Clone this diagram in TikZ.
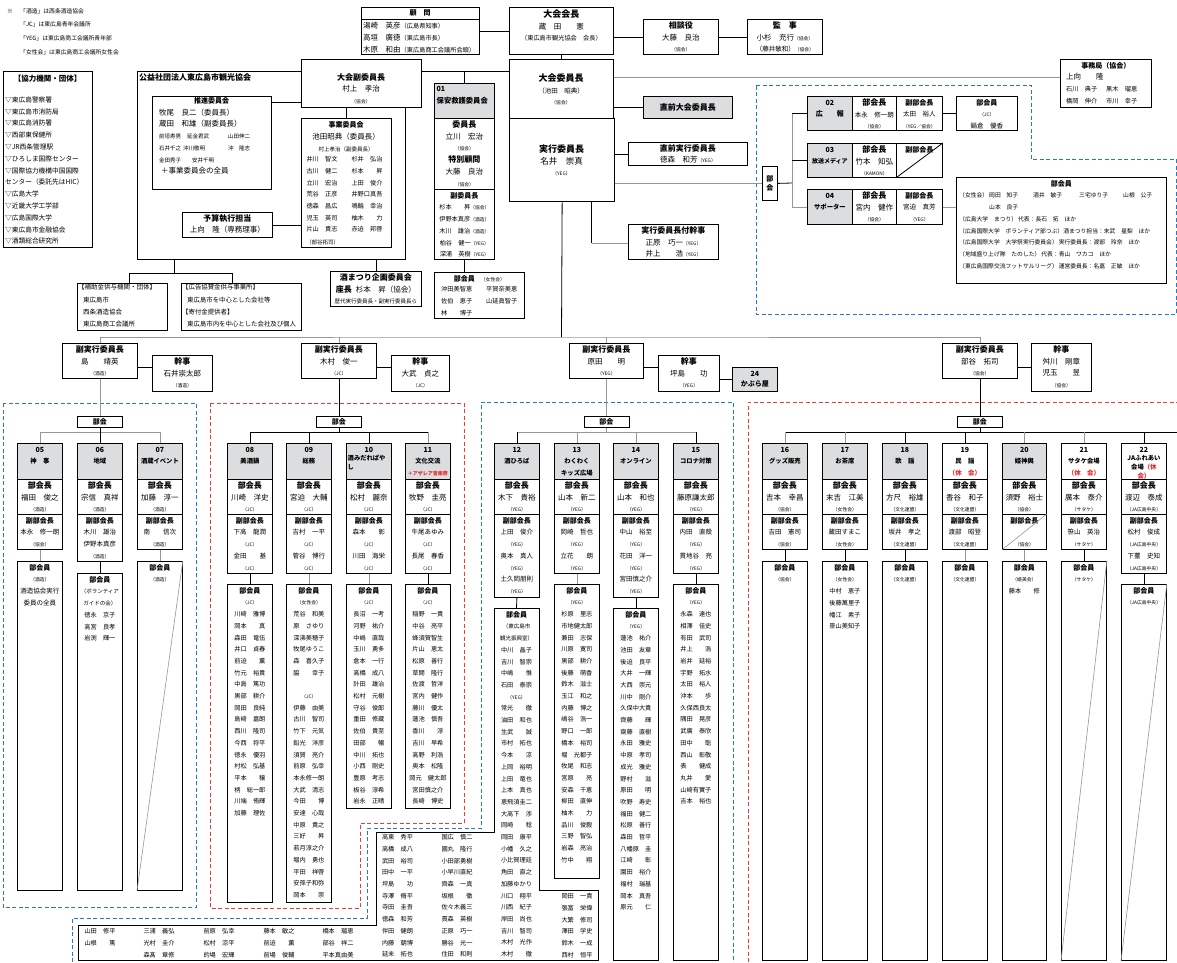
\documentclass[tikz,border=0pt]{standalone}
\usepackage{fontspec}
\setmainfont{Noto Sans CJK JP}
\usetikzlibrary{positioning}
\definecolor{hdrgray}{RGB}{220,221,223}
\definecolor{linegray}{RGB}{150,150,150}
\definecolor{dashblue}{RGB}{40,120,200}
\definecolor{dashred}{RGB}{235,60,60}
\definecolor{hlred}{RGB}{230,40,40}
% text sizes (all on an 11.7pt line pitch)
\newcommand{\fsB}{\fontsize{9}{11.7}\selectfont\bfseries}
\newcommand{\fsT}{\fontsize{8}{11.7}\selectfont\bfseries}
\newcommand{\fsH}{\fontsize{7}{11.7}\selectfont\bfseries}
\newcommand{\fsC}{\fontsize{6.3}{11.7}\selectfont\bfseries}
\newcommand{\fsR}{\fontsize{6.4}{11.7}\selectfont\bfseries\color{hlred}}
\newcommand{\fsN}{\fontsize{7.5}{11.7}\selectfont}
\newcommand{\fsV}{\fontsize{6.5}{11.7}\selectfont}
\newcommand{\fsM}{\fontsize{6.2}{11.7}\selectfont}
\newcommand{\fsP}{\fontsize{5.5}{11.7}\selectfont}
\newcommand{\fsS}{\fontsize{4.8}{11.7}\selectfont}
\tikzset{
  box/.style={draw=black, fill=white, line width=0.8pt, inner sep=0pt, anchor=north west},
  hdr/.style={box, fill=hdrgray},
  lbl/.style={inner sep=0pt, anchor=north, align=center, font=\fsM},
  lbll/.style={inner sep=0pt, anchor=north west, align=left, font=\fsM},
  conn/.style={draw=black, line width=0.8pt},
  gconn/.style={draw=linegray, line width=0.8pt},
  slash/.style={draw=linegray, line width=0.6pt},
  bluedash/.style={draw=dashblue, line width=0.9pt, dash pattern=on 4pt off 2.5pt},
  reddash/.style={draw=dashred, line width=0.9pt, dash pattern=on 4pt off 2.5pt}
}
% box with its text block hung from the top edge
\newcommand{\obox}[7][]{%
  \node[box,minimum width=#5pt,minimum height=#6pt,#1] (#2) at (#3,#4) {};
  \node[lbl] (#2t) at ([yshift=-2.5pt]#2.north) {\rule{0pt}{6.5pt}#7};}

\begin{document}
\begin{tikzpicture}[x=1pt,y=-1pt]
  \fill[white] (0,0) rectangle (1177,962);
  \useasboundingbox (0,0) rectangle (1177,962);

  % dashed groups
  \draw[bluedash] (756,85) -- (1031,85) -- (1031,159) -- (1176,159) -- (1176,314) -- (756,314) -- cycle;
  \draw[bluedash] (3,403) rectangle (196,907);
  \draw[reddash] (210,403) -- (464,403) -- (464,823) -- (360,823) -- (360,908) -- (210,908) -- cycle;
  \draw[bluedash] (72,962) -- (72,918) -- (367,918) -- (367,828) -- (481,828) -- (481,402) -- (733,402) -- (733,962);
  \draw[reddash] (748,962) -- (748,402) -- (1177,402);

  % notes
  \node[inner sep=0pt, font=\fontsize{5.8}{13.7}\selectfont] (kome) at (10,11) {※};
  \node[lbll, font=\fontsize{5.8}{13.7}\selectfont] (notes) at (20,7.5) {\rule{0pt}{5.5pt}「酒造」は西条酒造協会\\「JC」は東広島青年会議所\\「YEG」は東広島商工会議所青年部\\「女性会」は東広島商工会議所女性会};

  % cooperating bodies
  \node[box, minimum width=89pt, minimum height=176pt] (kyoryoku) at (3,71) {};
  \node[lbl, font=\fontsize{7.5}{11.8}\selectfont\bfseries] (kyoryokut) at (47.5,75) {\rule{0pt}{6.5pt}【協力機関・団体】};
  \node[lbll, font=\fontsize{6.7}{11.8}\selectfont] (kyoryokul) at (5,95.5) {\rule{0pt}{6.5pt}▽東広島警察署\\▽東広島市消防局\\▽東広島消防署\\▽西部東保健所\\▽JR西条管理駅\\▽ひろしま国際センター\\▽国際協力機構中国国際\\センター（委託先はHIC）\\▽広島大学\\▽近畿大学工学部\\▽広島国際大学\\▽東広島市金融協会\\▽酒類総合研究所};

  % tourism association
  \node[box, line width=1.2pt, minimum width=268pt, minimum height=188pt] (kanko) at (137,71) {};
  \node[lbll, font=\fsT] (kankot) at (139,73) {\rule{0pt}{6.5pt}公益社団法人東広島市観光協会};
  \node[box, minimum width=119pt, minimum height=93pt] (suishin) at (152,96) {};
  \node[lbl, font=\fsH] (suishint) at (211.5,97) {\rule{0pt}{6.5pt}推進委員会};
  \node[lbll] (suishinl) at (159,108.5) {\rule{0pt}{6.5pt}{\fsN 牧尾　良二（委員長）}\\{\fsN 蔵田　和雄（副委員長）}\\{\fsP\makebox[28pt][l]{前垣寿男}\makebox[41pt][l]{延金君武}山田伸二}\\{\fsP\makebox[24pt][l]{石井千之}\makebox[45pt][l]{沖川敬明}沖　隆志}\\{\fsP\makebox[33pt][l]{金田秀子}安井千明}\\{\fsN\hspace*{2pt}＋事業委員会の全員}};
  \node[box, minimum width=90pt, minimum height=129pt] (jigyo) at (301,118) {};
  \node[lbl] (jigyot) at (346,121) {\rule{0pt}{6.5pt}{\fsH 事業委員会}\\{\fsN 池田昭典（委員長）}\\{\fsP 村上孝治（副委員長）}};
  \node[lbl] (jigyol) at (322,155) {\rule{0pt}{6.5pt}井川　智文\\古川　健二\\立川　宏治\\荒谷　正彦\\徳森　昌広\\児玉　英司\\片山　貴志};
  \node[lbl] (jigyor) at (367,155) {\rule{0pt}{6.5pt}杉井　弘治\\杉本　　昇\\上田　俊介\\井野口真吾\\鳴輪　幸治\\柚木　　力\\赤迫　邦啓};
  \node[lbll, font=\fsP] (jigyob) at (306,238) {\rule{0pt}{6.5pt}（部谷拓司）};
  \obox{yosan}{182}{212}{90}{25}{{\fsT 予算執行担当}\\[-1pt]{\fsN 上向　隆（専務理事）}}
  \obox{fukutaikai}{301}{59}{120}{48}{}
  \node[lbl] (fukutaikaiu) at (361,73) {\rule{0pt}{6.5pt}{\fsT 大会副委員長}\\{\fsN 村上　孝治}\\{\fsS （協会）}};

  % supporters below
  \node[box, minimum width=90pt, minimum height=47pt] (hojo) at (77,283) {};
  \node[lbll, font=\fontsize{6.5}{12.3}\selectfont] (hojot) at (78,283) {\rule{0pt}{6.5pt}【補助金供与機関・団体】\\\hspace*{5pt}東広島市\\\hspace*{5pt}西条酒造協会\\\hspace*{5pt}東広島商工会議所};
  \node[box, minimum width=120pt, minimum height=47pt] (koukoku) at (181,283) {};
  \node[lbll, font=\fontsize{6.4}{12.3}\selectfont] (koukokut) at (182,283) {\rule{0pt}{6.5pt}【広告協賛金供与事業所】\\\hspace*{5pt}東広島市を中心とした会社等\\【寄付金提供者】\\\hspace*{5pt}東広島市内を中心とした会社及び個人};
  \obox{sakem}{330}{271}{91}{35}{{\fsT 酒まつり企画委員会}\\{\fsT 座長}\hspace{4pt}{\fsN 杉本　昇（協会）}\\{\fontsize{5.5}{11.7}\selectfont 歴代実行委員長・副実行委員長ら}}

  % top row
  \node[box, minimum width=118pt, minimum height=12pt] (komonh) at (361,7) {};
  \node[box, minimum width=118pt, minimum height=35pt] (komon) at (361,19) {};
  \node[lbl, font=\fsH] (komonht) at (420,9) {\rule{0pt}{6.5pt}顧　問};
  \node[lbll] (komonl) at (363,22) {\rule{0pt}{6.5pt}{\fsN 湯崎　英彦}（広島県知事）\\{\fsN 高垣　廣徳}（東広島市長）\\{\fsN 木原　和由}（東広島商工会議所会頭）};
  \obox{taikai}{509}{7}{104}{47}{{\fsB 大会会長}\\{\fsN 蔵　田　　憲}\\（東広島市観光協会　会長）}
  \obox{sodan}{643}{19}{75}{35}{{\fsT 相談役}\\{\fsN 大藤　良治}\\{\fsS （協会）}}
  \obox{kansa}{747}{19}{75}{35}{{\fsT 監　事}\\{\fsN 小杉　充行}{\fsS（協会）}\\{\fsV （藤井敏和）}{\fsS（協会）}}
  \node[box, minimum width=104pt, minimum height=59pt] (iincho) at (509,59) {};
  \node[lbl] (iinchot) at (561,73.5) {\rule{0pt}{6.5pt}{\fsB 大会委員長}\\{\fsV （池田　昭典）}\\{\fsS （協会）}};
  \node[box, line width=1.3pt, minimum width=105pt, minimum height=83pt] (jikko) at (509,118) {};
  \node[lbl] (jikkot) at (561.5,144.5) {\rule{0pt}{6.5pt}{\fsB 実行委員長}\\{\fontsize{8.5}{11.7}\selectfont 名井　崇真}\\{\fsS （YEG）}};
  \node[hdr, minimum width=89pt, minimum height=22pt, font=\fsT] (zenkai) at (643,96) {直前大会委員長};
  \obox{zenjikko}{628}{142}{119}{23}{{\fsT 直前実行委員長}\\[-1pt]{\fsN 徳森　和芳}{\fsS（YEG）}}
  \obox{tsuki}{628}{224}{90}{35}{{\fsT 実行委員長付幹事}\\{\fsN 正原　巧一}{\fsS（YEG）}\\{\fsN 井上　　浩}{\fsS（YEG）}}
  \obox{jimu}{1060}{59}{91}{48}{{\fsH 事務局（協会）}}
  \node[lbll] (jimul) at (1066,73) {\rule{0pt}{6.5pt}{\fsN 上向　　隆}\\\makebox[40pt][l]{石川　典子}黒木　瑠恵\\\makebox[40pt][l]{橋岡　伸介}市川　幸子};

  % 01
  \node[hdr, minimum width=60pt, minimum height=35pt] (hoanh) at (434,83) {};
  \node[lbll] (hoanht) at (436.5,85) {\rule{0pt}{6.5pt}{\fsH 01}\\{\fontsize{7.3}{11.7}\selectfont\bfseries 保安救護委員会}};
  \obox{hoan1}{434}{118}{60}{71}{{\fsT 委員長}\\{\fsN 立川　宏治}\\{\fsS （協会）}\\{\fsT 特別顧問}\\{\fsN 大藤　良治}\\{\fsS （協会）}}
  \obox{hoan2}{434}{189}{60}{70}{{\fsH 副委員長}\\杉本　　昇{\fsS（協会）}\\伊野本真彦{\fsS（酒造）}\\木川　雄治{\fsS（酒造）}\\柏谷　健一{\fsS（YEG）}\\深浦　英樹{\fsS（YEG）}}
  \obox{hoanw}{434}{272}{90}{46}{{\fsH 部会員}\hspace{6pt}{\fsS （女性会）}}
  \node[lbll] (hoanwl) at (441,285) {\rule{0pt}{6.5pt}\makebox[45pt][l]{沖田美智恵}平賀奈美恵\\\makebox[45pt][l]{佐伯　恵子}山延眞智子\\林　　博子};

  % 02-04
  \node[box, minimum width=15pt, minimum height=34pt, align=center, font=\fontsize{7}{9}\selectfont\bfseries] (bukaiv) at (762,166) {部\\会};
  \obox[hdr]{b02h}{807}{96}{45}{34}{{\fsH 02}\\{\fsH 広　　報}}
  \obox{b02a}{852}{96}{44}{34}{{\fsT 部会長}\\{\fsV 本永　修一朗}\\{\fsS （協会）}}
  \obox{b02b}{896}{96}{46}{34}{{\fsH 副部会長}\\{\fsV 太田　裕人}\\{\fsS （YEG／協会）}}
  \obox{b02c}{956}{96}{61}{34}{{\fsH 部会員}\\{\fsS （JC）}\\{\fsV 鍋倉　優香}}
  \obox[hdr]{b03h}{807}{143}{45}{34}{{\fsH 03}\\{\fontsize{6}{11.7}\selectfont\bfseries 放送メディア}}
  \obox{b03a}{852}{143}{44}{34}{{\fsT 部会長}\\{\fsN 竹本　知弘}\\{\fsS （KAMON）}}
  \obox{b03b}{896}{143}{46}{34}{{\fsH 副部会長}}
  \obox[hdr]{b04h}{807}{189}{45}{35}{{\fsH 04}\\{\fsC サポーター}}
  \obox{b04a}{852}{189}{44}{35}{{\fsT 部会長}\\{\fsN 宮内　健作}\\{\fsS （協会）}}
  \obox{b04b}{896}{189}{46}{35}{{\fsH 副部会長}\\{\fsV 宮迫　真芳}\\{\fsS （YEG）}}
  \obox{b04c}{956}{177}{210}{106}{{\fsH 部会員}}
  \node[lbll, font=\fontsize{5.8}{11.8}\selectfont] (b04cl) at (959,191) {\rule{0pt}{6.5pt}\makebox[30pt][l]{（女性会）}\makebox[44pt][l]{岡田　知子}\makebox[46pt][l]{酒井　敏子}\makebox[44pt][l]{三宅ゆり子}山根　公子\\\hspace*{30pt}山本　良子\\（広島大学　まつり）\,代表：長石　拓　ほか\\（広島国際大学　ボランティア部つぶ）酒まつり担当：末武　星梨　ほか\\（広島国際大学　大学祭実行委員会）\,実行委員長：渡部　玲奈　ほか\\（地域盛り上げ隊　たのした）\,代表：青山　ワカコ　ほか\\（東広島国際交流フットサルリーグ）\,運営委員長：名嘉　正敏　ほか};

  % top connectors
  \draw[conn] (taikai.west -| komon.east) -- (taikai.west);
  \draw[conn] (taikai.east |- sodan.west) -- (sodan.west);
  \draw[conn] (sodan.east) -- (kansa.west);
  \draw[conn] (taikai.south) -- (iincho.north);
  \draw[conn] ([yshift=12pt]fukutaikai.east) -- ([yshift=12pt]fukutaikai.east -| iincho.west);
  \draw[conn] (hoanh.north) -- ++(0,-12);
  \draw[conn] ([yshift=-6pt]suishin.north east) -- ([yshift=-6pt]suishin.north east -| fukutaikai.west);
  \draw[conn] (jigyo.north) -- (jigyo.north |- fukutaikai.south);
  \draw[conn] (yosan.east) -- (yosan.east -| jigyo.west);
  \draw[conn] (sakem.north) -- (sakem.north |- kanko.south);
  \draw[conn] ([xshift=-97pt]kanko.south) -- ++(0,13) coordinate (kj);
  \draw[conn] ([xshift=7pt]hojo.north) |- (kj) -| ([xshift=-9pt]koukoku.north);
  \draw[conn] (hoan2.south) -- (hoan2.south |- hoanw.north);
  \draw[conn] (zenkai.west -| iincho.east) -- (zenkai.west);
  \draw[conn] (zenjikko.west -| jikko.east) -- (zenjikko.west);
  \draw[gconn] ([yshift=11.5pt]iincho.east) -- ([yshift=11.5pt]iincho.east -| jimu.west);
  \draw[gconn] (bukaiv.west -| jikko.east) -- (bukaiv.west);
  \draw[conn] ([xshift=29.5pt]jikko.south) -- ++(0,41) coordinate (tk);
  \draw[gconn] (tk) -- (tk -| tsuki.west);
  \coordinate (bus0) at (792,183);
  \draw[conn] (bukaiv.east) -- (bus0);
  \draw[gconn] (bus0 |- b02h.west) -- (bus0 |- b04h.west);
  \draw[conn] (bus0 |- b02h.west) -- (b02h.west);
  \draw[conn] (bus0 |- b03h.west) -- (b03h.west);
  \draw[gconn] (bus0 |- b04h.west) -- (b04h.west);
  \draw[conn] (b02b.east) -- (b02c.west);
  \draw[gconn] (b04b.east) -- (b04b.east -| b04c.west);
  \draw[conn] (b03b.south west) -- (b03b.north east);

  % vice chairs
  \obox{fk1}{62}{343}{75}{35}{{\fsT 副実行委員長}\\{\fsN 島　　靖英}\\{\fsS （酒造）}}
  \obox{kj1}{152}{355}{60}{36}{{\fsT 幹事}\\{\fsN 石井崇太郎}\\{\fsS （酒造）}}
  \obox{fk2}{301}{343}{75}{35}{{\fsT 副実行委員長}\\{\fsN 木村　俊一}\\{\fsS （JC）}}
  \obox{kj2}{391}{355}{58}{36}{{\fsT 幹事}\\{\fsN 大武　貞之}\\{\fsS （JC）}}
  \obox{fk3}{569}{343}{74}{35}{{\fsT 副実行委員長}\\{\fsN 原田　　明}\\{\fsS （YEG）}}
  \obox{kj3}{658}{355}{61}{36}{{\fsT 幹事}\\{\fsN 坪島　　功}\\{\fsS （YEG）}}
  \obox[hdr]{k24}{732}{367}{45}{24}{{\fsH 24}\\[-1pt]{\fsH かぶら屋}}
  \obox{fk4}{942}{343}{75}{35}{{\fsT 副実行委員長}\\{\fsN 部谷　拓司}\\{\fsS （協会）}}
  \obox{kj4}{1031}{343}{60}{48}{{\fsT 幹事}\\{\fsN 舛川　剛章}\\{\fsN 児玉　　昱}\\{\fsS （協会）}}
  \coordinate (fbus) at (561.5,337);
  \draw[conn] (jikko.south) -- (fbus);
  \draw[gconn] (fk1.north) |- (fbus) -| (fk4.north);
  \draw[gconn] (fk2.north) -- (fk2.north |- fbus);
  \draw[gconn] (fk3.north) -- (fk3.north |- fbus);
  \draw[conn] ([yshift=-6.5pt]fk1.east) -- ([yshift=-6.5pt]fk1.east -| kj1.west);
  \draw[conn] ([yshift=-6.5pt]fk2.east) -- ([yshift=-6.5pt]fk2.east -| kj2.west);
  \draw[conn] ([yshift=-6.5pt]fk3.east) -- ([yshift=-6.5pt]fk3.east -| kj3.west);
  \draw[conn] ([yshift=-6.5pt]fk4.east) -- ([yshift=-6.5pt]fk4.east -| kj4.west);
  \draw[conn] (k24.west -| kj3.east) -- (k24.west);

  % group 1
  \node[box, minimum width=45pt, minimum height=11pt, font=\fsH] (bk1) at (77,416) {部会};
  \obox[hdr]{h05}{17}{443}{45}{36}{{\fsH 05}\\{\fsC 神　事}}
  \obox{a05}{17}{479}{45}{35}{{\fsT 部会長}\\{\fsN 福田　俊之}\\{\fsS （酒造）}}
  \obox{v05}{17}{514}{45}{35}{{\fsH 副部会長}\\{\fsV 本永　修一朗}\\{\fsS （協会）}}
  \obox{m05}{17}{561}{45}{329}{{\fsH 部会員}\\{\fsS （酒造）}\\{\fsV 酒造協会実行}\\{\fsV 委員の全員}}
  \obox[hdr]{h06}{77}{443}{45}{36}{{\fsH 06}\\{\fsC 地域}}
  \obox{a06}{77}{479}{45}{35}{{\fsT 部会長}\\{\fsN 宗信　真祥}\\{\fsS （酒造）}}
  \obox{v06}{77}{514}{45}{47}{{\fsH 副部会長}\\{\fsV 木川　雄治}\\{\fsV 伊野本真彦}\\{\fsS （酒造）}}
  \obox{m06}{77}{573}{45}{317}{{\fsH 部会員}\\{\fsP （ボランティア}\\{\fsP ガイドの会）}\\徳永　京子\\高宮　良孝\\岩渕　輝一}
  \obox[hdr]{h07}{137}{443}{45}{36}{{\fsH 07}\\{\fsC 酒蔵イベント}}
  \obox{a07}{137}{479}{45}{35}{{\fsT 部会長}\\{\fsN 加藤　淳一}\\{\fsS （酒造）}}
  \obox{v07}{137}{514}{45}{35}{{\fsH 副部会長}\\{\fsV 南　　信次}\\{\fsS （酒造）}}
  \obox{m07}{137}{561}{45}{329}{{\fsH 部会員}\\{\fsS （酒造）}}
  \draw[slash] (m07.south west) -- (m07.north east);
  \draw[gconn] (fk1.south) -- (bk1.north);
  \draw[gconn] ([yshift=11pt]h05.north) -- ([yshift=11pt]h07.north);
  \draw[gconn] (h05.north) -- ++(0,-11);
  \draw[gconn] (h07.north) -- ++(0,-11);
  \draw[conn] (bk1.south) -- (h06.north);
  \draw[gconn] (v05.south) -- (m05.north);
  \draw[conn] (v06.south) -- (m06.north);
  \draw[gconn] (v07.south) -- (m07.north);

  % group 2
  \node[box, minimum width=45pt, minimum height=11pt, font=\fsH] (bk2) at (316,416) {部会};
  \obox[hdr]{h08}{227}{443}{45}{36}{{\fsH 08}\\{\fsC 美酒鍋}}
  \obox{a08}{227}{479}{45}{35}{{\fsT 部会長}\\{\fsN 川崎　洋史}\\{\fsS （JC）}}
  \obox{v08}{227}{514}{45}{59}{{\fsH 副部会長}\\{\fsV 下高　龍潤}\\{\fsS （JC）}\\{\fsV 金田　　基}\\{\fsS （JC）}}
  \obox{m08}{227}{584}{45}{318}{{\fsH 部会員}\\{\fsS （JC）}\\川崎　雅博\\岡本　　真\\森田　竜伍\\井口　貞春\\前迫　　薫\\竹元　裕貴\\中島　篤功\\黒部　耕介\\岡田　良純\\島崎　嘉朗\\西川　隆司\\今西　将平\\徳永　優羽\\村松　弘基\\平本　　穣\\柄　総一郎\\川端　侑輝\\加藤　理佐}
  \obox[hdr]{h09}{286}{443}{45}{36}{{\fsH 09}\\{\fsC 総務}}
  \obox{a09}{286}{479}{45}{35}{{\fsT 部会長}\\{\fsN 宮迫　大輔}\\{\fsS （JC）}}
  \obox{v09}{286}{514}{45}{59}{{\fsH 副部会長}\\{\fsV 吉村　一平}\\{\fsS （JC）}\\{\fsV 菅谷　博行}\\{\fsS （JC）}}
  \obox{m09}{286}{584}{45}{318}{{\fsH 部会員}\\{\fsS （女性会）}\\荒谷　和美\\原　さゆり\\深沸美穂子\\牧尾ゆうこ\\森　喜久子\\脇　　幸子\\\mbox{}\\{\fsS （JC）}\\伊藤　由美\\古川　智司\\竹下　元気\\鉛光　洋彦\\須賀　亮介\\前原　弘幸\\本永修一朗\\大武　清志\\今田　　博\\安達　心哉\\中原　貴之\\三好　　昇\\若月淳之介\\堀内　勇也\\平田　祥啓\\安孫子和弥\\岡本　　崇}
  \node[hdr, minimum width=45pt, minimum height=36pt] (h10) at (346,443) {};
  \node[lbl] (h10t) at ([yshift=-2.5pt]h10.north) {\rule{0pt}{6.5pt}{\fsH 10}};
  \node[lbll, font=\fontsize{6.3}{8.5}\selectfont\bfseries] (h10n) at (347.5,455) {\rule{0pt}{5.5pt}酒みだれぱや\\し};
  \obox{a10}{346}{479}{45}{35}{{\fsT 部会長}\\{\fsN 松村　麗奈}\\{\fsS （JC）}}
  \obox{v10}{346}{514}{45}{59}{{\fsH 副部会長}\\{\fsV 森本　　彰}\\{\fsS （JC）}\\{\fsV 川田　海栄}\\{\fsS （JC）}}
  \obox{m10}{346}{584}{45}{224}{{\fsH 部会員}\\{\fsS （JC）}\\長沼　一考\\河野　祐介\\中嶋　直哉\\玉川　勇多\\倉本　一行\\高橋　成八\\計田　雄治\\松村　元樹\\守谷　俊郎\\重田　修蔵\\佐伯　貴至\\田部　　暢\\中川　拓也\\小西　剛史\\豊原　考志\\板谷　淳希\\岩永　正晴}
  \obox[hdr]{h11}{405}{443}{45}{36}{{\fsH 11}\\{\fsC 文化交流}\\{\fontsize{5}{11.7}\selectfont\bfseries\color{hlred}＋アザレア音楽祭}}
  \obox{a11}{405}{479}{45}{35}{{\fsT 部会長}\\{\fsN 牧野　圭亮}\\{\fsS （JC）}}
  \obox{v11}{405}{514}{45}{59}{{\fsH 副部会長}\\{\fsV 牛尾あゆみ}\\{\fsS （JC）}\\{\fsV 長尾　春香}\\{\fsS （JC）}}
  \obox{m11}{405}{584}{45}{224}{{\fsH 部会員}\\{\fsS （JC）}\\稲野　一貴\\中谷　亮平\\蜂須賀智生\\片山　恵太\\松原　善行\\草間　隆行\\佐渡　哲洋\\宮内　健作\\藤川　優太\\蓮池　慎吾\\香川　　淳\\吉川　早希\\高野　利浩\\奥本　松隆\\岡元　健太郎\\宮田慎之介\\長崎　博史}
  \draw[conn] (fk2.south) -- (bk2.north);
  \draw[conn] ([yshift=11pt]h08.north) -- ([yshift=11pt]h11.north);
  \draw[conn] (bk2.south) -- ++(0,5);
  \draw[conn] (h08.north) -- ++(0,-11);
  \draw[conn] (h09.north) -- ++(0,-11);
  \draw[conn] (h10.north) -- ++(0,-11);
  \draw[gconn] (h11.north) -- ++(0,-11);
  \draw[conn] (v08.south) -- (m08.north);
  \draw[gconn] (v09.south) -- (m09.north);
  \draw[gconn] (v10.south) -- (m10.north);
  \draw[conn] (v11.south) -- (m11.north);

  % group 3
  \node[box, minimum width=45pt, minimum height=11pt, font=\fsH] (bk3) at (583.5,416) {部会};
  \obox[hdr]{h12}{494}{443}{45}{36}{{\fsH 12}\\{\fsC 酒ひろば}}
  \obox{a12}{494}{479}{45}{35}{{\fsT 部会長}\\{\fsN 木下　貴裕}\\{\fsS （YEG）}}
  \obox{v12}{494}{514}{45}{83}{{\fsH 副部会長}\\{\fsV 上田　俊介}\\{\fsS （YEG）}\\{\fsV 奥本　真人}\\{\fsS （YEG）}\\{\fsV 土久岡朋則}\\{\fsS （YEG）}}
  \draw[line width=0.8pt] (494,608) -- (539,608) -- (539,890) -- (598,890) -- (598,960) -- (78,960) -- (78,925) -- (376,925) -- (376,832) -- (494,832) -- cycle;
  \coordinate (m12) at (516.5,608);
  \node[lbl] (m12t) at (516.5,610.5) {\rule{0pt}{6.5pt}{\fsH 部会員}\\{\fsP （東広島市}\\{\fsP 観光振興室）}\\中川　晶子\\吉川　智崇\\中嶋　　惟\\石田　泰崇\\{\fsS （YEG）}\\常光　　徹\\油田　和也\\生武　　誠\\市村　拓也\\今本　　涼\\上岡　裕明\\上田　竜也\\上本　真也\\恵飛須圭二\\大高下　渉\\岡崎　　稔\\岡田　康平\\小幡　久之\\小比賀理廷\\角田　直之\\加藤ゆかり\\川口　翔平\\川西　紀子\\岸田　尚也\\吉川　智司\\木村　光作\\木村　　徹};
  \node[lbl] (m12a) at (397.5,833) {\rule{0pt}{6.5pt}高東　秀平\\高橋　成八\\武田　裕司\\田中　一平\\坪島　　功\\寺澤　脩平\\寺田　圭吾\\徳森　和芳\\伴田　健朗\\内藤　朝博\\延末　拓也};
  \node[lbl] (m12b) at (457,833) {\rule{0pt}{6.5pt}国広　慎二\\國丸　隆行\\小田部勇樹\\小早川直紀\\齊森　一真\\坂根　　徹\\佐々木義三\\貫森　英樹\\正原　巧一\\勝谷　光一\\住田　和則};
  \node[lbl] (m12c) at (577,892) {\rule{0pt}{6.5pt}岡田　一貴\\張富　栄偉\\大繁　修司\\澤田　学史\\鈴木　一成\\西村　恒平};
  \node[lbl] (m12d) at (100,927) {\rule{0pt}{6.5pt}山田　修平\\山根　　篤};
  \node[lbl] (m12e) at (159,927) {\rule{0pt}{6.5pt}三浦　義弘\\光村　圭介\\森髙　章修};
  \node[lbl] (m12f) at (219,927) {\rule{0pt}{6.5pt}前原　弘幸\\松村　涼平\\的場　宏輝};
  \node[lbl] (m12g) at (279,927) {\rule{0pt}{6.5pt}藤本　敏之\\前迫　　薫\\前場　俊輔};
  \node[lbl] (m12h) at (338,927) {\rule{0pt}{6.5pt}橋本　瑠恵\\部谷　祥二\\平本真由美};
  \obox[hdr]{h13}{554}{443}{45}{36}{{\fsH 13}\\{\fsC わくわく}\\{\fsC キッズ広場}}
  \obox{a13}{554}{479}{45}{35}{{\fsT 部会長}\\{\fsN 山本　新二}\\{\fsS （YEG）}}
  \obox{v13}{554}{514}{45}{59}{{\fsH 副部会長}\\{\fsV 岡崎　哲也}\\{\fsS （YEG）}\\{\fsV 立花　　朗}\\{\fsS （YEG）}}
  \obox{m13}{554}{584}{45}{294}{{\fsH 部会員}\\{\fsS （YEG）}\\杉原　里志\\市地健太郎\\兼田　志保\\川原　寛司\\黒部　耕介\\後藤　萌香\\鈴木　滋士\\玉江　和之\\内藤　博之\\嶋谷　浩一\\野口　一郎\\橋本　裕司\\堀　光都子\\牧尾　和志\\宮原　　亮\\安森　千恵\\柳田　直伸\\柚木　　力\\品川　俊毅\\三野　智弘\\岩森　亮治\\竹中　　翔}
  \obox[hdr]{h14}{613}{443}{45}{36}{{\fsH 14}\\{\fsC オンライン}}
  \obox{a14}{613}{479}{45}{35}{{\fsT 部会長}\\{\fsN 山本　和也}\\{\fsS （YEG）}}
  \obox{v14}{613}{514}{45}{83}{{\fsH 副部会長}\\{\fsV 中山　裕至}\\{\fsS （YEG）}\\{\fsV 花田　洋一}\\{\fsS （YEG）}\\{\fsV 宮田慎之介}\\{\fsS （YEG）}}
  \obox{m14}{613}{608}{45}{352}{{\fsH 部会員}\\{\fsS （YEG）}\\蓮池　祐介\\池田　友章\\後迫　良平\\大井　一輝\\大西　崇元\\川中　剛介\\久保中大貴\\齊藤　　輝\\齋藤　直樹\\永田　雅史\\中原　孝司\\成光　雅史\\野村　　滋\\原田　　明\\吹野　寿史\\福田　健二\\松原　善行\\森田　哲平\\八幡原　圭\\江崎　　彰\\園田　裕介\\福村　瑞基\\岡本　真吾\\原元　　仁}
  \obox[hdr]{h15}{673}{443}{45}{36}{{\fsH 15}\\{\fsC コロナ対策}}
  \obox{a15}{673}{479}{45}{35}{{\fsT 部会長}\\{\fsN 藤原謙太郎}\\{\fsS （YEG）}}
  \obox{v15}{673}{514}{45}{59}{{\fsH 副部会長}\\{\fsV 内田　直殻}\\{\fsS （YEG）}\\{\fsV 貫地谷　亮}\\{\fsS （YEG）}}
  \obox{m15}{673}{584}{45}{376}{{\fsH 部会員}\\{\fsS （YEG）}\\永森　達也\\相澤　佳史\\有田　武司\\井上　　浩\\岩井　延裕\\宇野　拓水\\太田　裕人\\沖本　　歩\\久保西良太\\隅田　晃彦\\武廣　泰欣\\田中　　聡\\西山　彰敬\\表　　健成\\丸井　　愛\\山崎有實子\\吉本　裕也}
  \draw[gconn] (fk3.south) -- (bk3.north);
  \draw[gconn] ([yshift=11pt]h12.north) -- ([yshift=11pt]h15.north);
  \draw[gconn] (bk3.south) -- ++(0,5);
  \draw[conn] (h12.north) -- ++(0,-11);
  \draw[gconn] (h13.north) -- ++(0,-11);
  \draw[gconn] (h14.north) -- ++(0,-11);
  \draw[conn] (h15.north) -- ++(0,-11);
  \draw[conn] (v12.south) -- (m12);
  \draw[gconn] (v13.south) -- (m13.north);
  \draw[conn] (v14.south) -- (m14.north);
  \draw[conn] (v15.south) -- (m15.north);

  % group 4
  \node[box, minimum width=45pt, minimum height=11pt, font=\fsH] (bk4) at (957,416) {部会};
  \obox[hdr]{h16}{762}{443}{45}{36}{{\fsH 16}\\{\fsC グッズ販売}}
  \obox{a16}{762}{479}{45}{35}{{\fsT 部会長}\\{\fsN 吉本　幸昌}\\{\fsS （協会）}}
  \obox{v16}{762}{514}{45}{35}{{\fsH 副部会長}\\{\fsV 吉田　憲司}\\{\fsS （協会）}}
  \obox{m16}{762}{561}{45}{399}{{\fsH 部会員}\\{\fsS （協会）}}
  \obox[hdr]{h17}{822}{443}{45}{36}{{\fsH 17}\\{\fsC お茶席}}
  \obox{a17}{822}{479}{45}{35}{{\fsT 部会長}\\{\fsN 末吉　江美}\\{\fsS （女性会）}}
  \obox{v17}{822}{514}{45}{35}{{\fsH 副部会長}\\{\fsV 蔵田すまこ}\\{\fsS （女性会）}}
  \obox{m17}{822}{561}{45}{399}{{\fsH 部会員}\\{\fsS （女性会）}\\中村　恵子\\後藤萬里子\\幡江　素子\\景山美知子}
  \obox[hdr]{h18}{882}{443}{45}{36}{{\fsH 18}\\{\fsC 歌　謡}}
  \obox{a18}{882}{479}{45}{35}{{\fsT 部会長}\\{\fsN 方尺　裕雄}\\{\fsS （文化連盟）}}
  \obox{v18}{882}{514}{45}{35}{{\fsH 副部会長}\\{\fsV 坂井　孝之}\\{\fsS （文化連盟）}}
  \obox{m18}{882}{561}{45}{399}{{\fsH 部会員}\\{\fsS （文化連盟）}}
  \obox{h19}{942}{443}{45}{36}{{\fsH 19}\\{\fsC 民　謡}\\{\fsR （休　会）}}
  \obox{a19}{942}{479}{45}{35}{{\fsT 部会長}\\{\fsN 香谷　和子}\\{\fsS （文化連盟）}}
  \obox{v19}{942}{514}{45}{35}{{\fsH 副部会長}\\{\fsV 渡部　昭登}\\{\fsS （文化連盟）}}
  \obox{m19}{942}{561}{45}{399}{{\fsH 部会員}\\{\fsS （文化連盟）}}
  \obox[hdr]{h20}{1002}{443}{44}{36}{{\fsH 20}\\{\fsC 姫神輿}}
  \obox{a20}{1002}{479}{44}{35}{{\fsT 部会長}\\{\fsN 須野　裕士}\\{\fsS （協会）}}
  \obox{v20}{1002}{514}{44}{35}{{\fsH 副部会長}\\\mbox{}\\{\fsS （協会）}}
  \draw[slash] (v20.south west) -- (v20.north east);
  \obox{m20}{1002}{561}{44}{399}{{\fsH 部会員}\\{\fsS （姫美会）}\\藤本　　修}
  \obox{h21}{1061}{443}{45}{36}{{\fsH 21}\\{\fsC サタケ会場}\\{\fsR （休　会）}}
  \obox{a21}{1061}{479}{45}{35}{{\fsT 部会長}\\{\fsN 廣本　泰介}\\{\fsS （サタケ）}}
  \obox{v21}{1061}{514}{45}{35}{{\fsH 副部会長}\\{\fsV 笹山　英治}\\{\fsS （サタケ）}}
  \obox{m21}{1061}{561}{45}{399}{{\fsH 部会員}\\{\fsS （サタケ）}}
  \draw[slash] (m21.south west) -- (m21.north east);
  \obox{h22}{1121}{443}{45}{36}{{\fsH 22}\\[-3pt]{\fsC JAふれあい}\\[-3pt]{\fsC 会場}{\fsR （休}\\[-3pt]{\fsR 会）}}
  \obox{a22}{1121}{479}{45}{35}{{\fsT 部会長}\\{\fsN 渡辺　泰成}\\{\fsS （JA広島中央）}}
  \obox{v22}{1121}{514}{45}{59}{{\fsH 副部会長}\\{\fsV 松村　俊成}\\{\fsS （JA広島中央）}\\{\fsV 下薹　史知}\\{\fsS （JA広島中央）}}
  \obox{m22}{1121}{584}{45}{376}{{\fsH 部会員}\\{\fsS （JA広島中央）}}
  \draw[slash] (m22.south west) -- (m22.north east);
  \coordinate (bus4end) at (1177,432);
  \draw[conn] (fk4.south) -- (bk4.north);
  \draw[conn] ([yshift=11pt]h16.north) -- (bus4end);
  \draw[conn] (bk4.south) -- ++(0,5);
  \draw[gconn] (h16.north) -- ++(0,-11);
  \draw[gconn] (h17.north) -- ++(0,-11);
  \draw[conn] (h18.north) -- ++(0,-11);
  \draw[conn] (h19.north) -- ++(0,-11);
  \draw[gconn] (h20.north) -- ++(0,-11);
  \draw[gconn] (h21.north) -- ++(0,-11);
  \draw[conn] (h22.north) -- ++(0,-11);
  \draw[conn] (v16.south) -- (m16.north);
  \draw[conn] (v17.south) -- (m17.north);
  \draw[conn] (v18.south) -- (m18.north);
  \draw[gconn] (v19.south) -- (m19.north);
  \draw[gconn] (v20.south) -- (m20.north);
  \draw[conn] (v21.south) -- (m21.north);
  \draw[conn] (v22.south) -- (m22.north);
\end{tikzpicture}
\end{document}
